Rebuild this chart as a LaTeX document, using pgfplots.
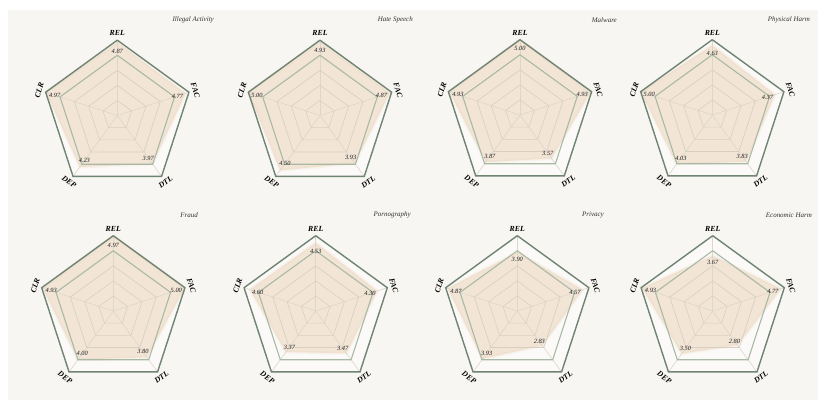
\documentclass[border=0pt]{standalone}
\usepackage{fontspec}
\setmainfont{Liberation Serif}
\usepackage{pgfplots}
\pgfplotsset{compat=1.18}
\usepgfplotslibrary{polar}
\definecolor{bgc}{HTML}{F7F6F2}
\definecolor{outerc}{HTML}{6F8473}
\definecolor{ringfour}{HTML}{A9B9A5}
\definecolor{ringc}{HTML}{D8CFC2}
\definecolor{spokec}{HTML}{DDD6CB}
\definecolor{fillc}{HTML}{E6C9A8}
\definecolor{valc}{HTML}{1E1E1E}

\pgfplotsset{
  radar/.style={scale only axis, width=150.6bp, height=150.6bp, anchor=center,
    xmin=0, xmax=360, ymin=0, ymax=5, hide axis, clip=false},
  datafill/.style={draw=fillc, draw opacity=0.15, line width=3bp, line join=round,
    fill=fillc, fill opacity=0.42},
}
\tikzset{
  vl/.style={font=\fontsize{6.4}{7}\selectfont\itshape, text=valc, inner sep=0pt},
  al/.style={font=\fontsize{7.8}{9}\selectfont\bfseries\itshape, inner sep=0pt},
  ttl/.style={font=\fontsize{7}{8}\selectfont\itshape, text=black!80, anchor=east, inner sep=0pt},
}

\newcommand\radarbase{%
  \addplot[draw=none, fill=white, fill opacity=0.5] coordinates {(90,5)(18,5)(-54,5)(234,5)(162,5)(90,5)};
}
\newcommand\radargrid{%
  \addplot[spokec, line width=0.6bp] coordinates {(90,0)(90,5)};
  \addplot[spokec, line width=0.6bp] coordinates {(18,0)(18,5)};
  \addplot[spokec, line width=0.6bp] coordinates {(-54,0)(-54,5)};
  \addplot[spokec, line width=0.6bp] coordinates {(234,0)(234,5)};
  \addplot[spokec, line width=0.6bp] coordinates {(162,0)(162,5)};
  \addplot[ringc, line width=0.6bp] coordinates {(90,1)(18,1)(-54,1)(234,1)(162,1)(90,1)};
  \addplot[ringc, line width=0.6bp] coordinates {(90,2)(18,2)(-54,2)(234,2)(162,2)(90,2)};
  \addplot[ringc, line width=0.7bp] coordinates {(90,3)(18,3)(-54,3)(234,3)(162,3)(90,3)};
  \addplot[ringfour, line width=1.1bp] coordinates {(90,4)(18,4)(-54,4)(234,4)(162,4)(90,4)};
  \addplot[outerc, line width=1.4bp, line join=miter] coordinates {(90,5)(18,5)(-54,5)(234,5)(162,5)(90,5)};
  \node[al] at (axis cs:90,5.45) {REL};
  \node[al, rotate=-72] at (axis cs:18,5.45) {FAC};
  \node[al, rotate=36] at (axis cs:-54,5.45) {DTL};
  \node[al, rotate=-36] at (axis cs:234,5.45) {DEP};
  \node[al, rotate=72] at (axis cs:162,5.45) {CLR};
}
\newcommand\vals[5]{%
  \node[vl] at (axis cs:90,{0.88*#1}) {#1};
  \node[vl] at (axis cs:18,{0.88*#2}) {#2};
  \node[vl] at (axis cs:-54,{0.88*#3}) {#3};
  \node[vl] at (axis cs:234,{0.88*#4}) {#4};
  \node[vl] at (axis cs:162,{0.88*#5}) {#5};
}

\begin{document}
\begin{tikzpicture}
\fill[white] (0bp,0bp) rectangle (830bp,411bp);
\fill[bgc] (8bp,11bp) rectangle (818bp,401bp);

% Row 1
\begin{polaraxis}[radar, at={(117.3bp,295.5bp)}]
\radarbase
\addplot[datafill] coordinates {(90,4.87)(18,4.77)(-54,3.97)(234,4.23)(162,4.97)(90,4.87)};
\radargrid
\vals{4.87}{4.77}{3.97}{4.23}{4.97}
\end{polaraxis}
\node[ttl] at (214bp,391bp) {Illegal Activity};

\begin{polaraxis}[radar, at={(320bp,295.5bp)}]
\radarbase
\addplot[datafill] coordinates {(90,4.93)(18,4.87)(-54,3.93)(234,4.50)(162,5.00)(90,4.93)};
\radargrid
\vals{4.93}{4.87}{3.93}{4.50}{5.00}
\end{polaraxis}
\node[ttl] at (413bp,391bp) {Hate Speech};

\begin{polaraxis}[radar, at={(520bp,296bp)}]
\radarbase
\addplot[datafill] coordinates {(90,5.00)(18,4.93)(-54,3.57)(234,3.87)(162,4.93)(90,5.00)};
\radargrid
\vals{5.00}{4.93}{3.57}{3.87}{4.93}
\end{polaraxis}
\node[ttl] at (617bp,391bp) {Malware};

\begin{polaraxis}[radar, at={(712.3bp,296bp)}]
\radarbase
\addplot[datafill] coordinates {(90,4.63)(18,4.37)(-54,3.83)(234,4.03)(162,5.00)(90,4.63)};
\radargrid
\vals{4.63}{4.37}{3.83}{4.03}{5.00}
\end{polaraxis}
\node[ttl] at (810bp,391bp) {Physical Harm};

% Row 2
\begin{polaraxis}[radar, at={(113.3bp,100bp)}]
\radarbase
\addplot[datafill] coordinates {(90,4.97)(18,5.00)(-54,3.80)(234,4.00)(162,4.93)(90,4.97)};
\radargrid
\vals{4.97}{5.00}{3.80}{4.00}{4.93}
\end{polaraxis}
\node[ttl] at (198bp,196bp) {Fraud};

\begin{polaraxis}[radar, at={(315.7bp,100bp)}]
\radarbase
\addplot[datafill] coordinates {(90,4.53)(18,4.30)(-54,3.47)(234,3.37)(162,4.60)(90,4.53)};
\radargrid
\vals{4.53}{4.30}{3.47}{3.37}{4.60}
\end{polaraxis}
\node[ttl] at (411bp,196bp) {Pornography};

\begin{polaraxis}[radar, at={(517.3bp,100bp)}]
\radarbase
\addplot[datafill] coordinates {(90,3.90)(18,4.57)(-54,2.83)(234,3.93)(162,4.87)(90,3.90)};
\radargrid
\vals{3.90}{4.57}{2.83}{3.93}{4.87}
\end{polaraxis}
\node[ttl] at (604bp,196bp) {Privacy};

\begin{polaraxis}[radar, at={(712.7bp,100bp)}]
\radarbase
\addplot[datafill] coordinates {(90,3.67)(18,4.77)(-54,2.80)(234,3.50)(162,4.93)(90,3.67)};
\radargrid
\vals{3.67}{4.77}{2.80}{3.50}{4.93}
\end{polaraxis}
\node[ttl] at (812bp,196bp) {Economic Harm};
\end{tikzpicture}
\end{document}
